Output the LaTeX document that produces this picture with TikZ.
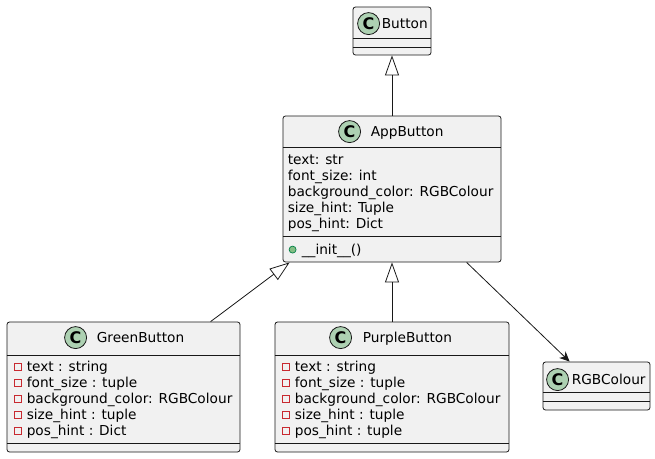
\documentclass[tikz,border=0pt]{standalone}
\usepackage{fontspec}
\setmainfont{DejaVu Sans}
\usetikzlibrary{arrows.meta,calc,positioning}
\definecolor{umlfill}{HTML}{F1F1F1}
\definecolor{umlline}{HTML}{181818}
\definecolor{spotfill}{HTML}{ADD1B2}
\definecolor{privred}{HTML}{C82930}
\definecolor{pubfill}{HTML}{84BE84}
\definecolor{publine}{HTML}{038048}
\newcommand{\umlfont}{\fontsize{13.7pt}{16pt}\selectfont}
\tikzset{
  cls/.style     = {draw=umlline, fill=umlfill, line width=0.8pt, rounded corners=2.5pt,
                    inner sep=0pt},
  sepline/.style = {draw=umlline, line width=0.8pt},
  spot/.style    = {circle, draw=umlline, fill=spotfill, line width=0.8pt, minimum size=22pt,
                    inner sep=0pt, font=\fontsize{16pt}{16pt}\selectfont\bfseries},
  cname/.style   = {anchor=base west, inner sep=0pt, font=\umlfont},
  attr/.style    = {anchor=base west, inner sep=0pt, font=\umlfont},
  priv/.style    = {draw=privred, line width=1pt},
  pub/.style     = {circle, draw=publine, fill=pubfill, line width=0.7pt, minimum size=7pt,
                    inner sep=0pt},
  inherit/.style = {draw=umlline, line width=0.8pt,
                    -{Triangle[open, length=20pt, width=14pt, line width=0.8pt]}},
  assoc/.style   = {draw=umlline, line width=0.8pt,
                    -{Stealth[length=10pt, width=9pt, inset=3pt]}},
}

\begin{document}
\begin{tikzpicture}[x=1pt,y=-1pt]
  \useasboundingbox (0,0) rectangle (655,458);

  % class boxes
  \node[cls, minimum width=78pt,  minimum height=48pt]  (button) at (392,31)    {};
  \node[cls, minimum width=218pt, minimum height=146pt] (app)    at (392,189)   {};
  \node[cls, minimum width=233pt, minimum height=130pt] (green)  at (123.5,387) {};
  \node[cls, minimum width=234pt, minimum height=130pt] (purple) at (392,387)   {};
  \node[cls, minimum width=107pt, minimum height=48pt]  (rgb)    at (596.5,386) {};

  % compartments
  \draw[sepline] ($(button.north west)+(0,32)$) -- ($(button.north east)+(0,32)$);
  \draw[sepline] ($(button.north west)+(0,41)$) -- ($(button.north east)+(0,41)$);
  \draw[sepline] ($(app.north west)+(0,32)$) -- ($(app.north east)+(0,32)$);
  \draw[sepline] ($(app.north west)+(0,121)$) -- ($(app.north east)+(0,121)$);
  \draw[sepline] ($(green.north west)+(0,34)$) -- ($(green.north east)+(0,34)$);
  \draw[sepline] ($(green.north west)+(0,122)$) -- ($(green.north east)+(0,122)$);
  \draw[sepline] ($(purple.north west)+(0,34)$) -- ($(purple.north east)+(0,34)$);
  \draw[sepline] ($(purple.north west)+(0,122)$) -- ($(purple.north east)+(0,122)$);
  \draw[sepline] ($(rgb.north west)+(0,31)$) -- ($(rgb.north east)+(0,31)$);
  \draw[sepline] ($(rgb.north west)+(0,40)$) -- ($(rgb.north east)+(0,40)$);

  % headers
  \node[spot] (buttonC) at ($(button.north west)+(16,17)$) {C};
  \node[cname] (buttonN) at ($(button.north west)+(29,22)$) {Button};
  \node[spot] (appC) at ($(app.north west)+(67,16)$) {C};
  \node[cname] (appN) at ($(app.north west)+(88,21)$) {AppButton};
  \node[spot] (greenC) at ($(green.north west)+(69,16)$) {C};
  \node[cname] (greenN) at ($(green.north west)+(90,21)$) {GreenButton};
  \node[spot] (purpleC) at ($(purple.north west)+(66,16)$) {C};
  \node[cname] (purpleN) at ($(purple.north west)+(88,21)$) {PurpleButton};
  \node[spot] (rgbC) at ($(rgb.north west)+(15,18)$) {C};
  \node[cname] (rgbN) at ($(rgb.north west)+(29,23)$) {RGBColour};

  % members
  \foreach \a [count=\i from 0] in {text: str, font\_size: int,
      background\_color: RGBColour, size\_hint: Tuple, pos\_hint: Dict}
    \node[attr] (appA\i) at ($(app.north west)+(5,49+16*\i)$) {\a};
  \node[pub] (appM) at ($(app.north west)+(10,134)$) {};
  \node[attr] (appMN) at ($(app.north west)+(19,139)$) {\_\_init\_\_()};
  \foreach \a [count=\i from 0] in {text : string, font\_size : tuple,
      background\_color: RGBColour, size\_hint : tuple, pos\_hint : Dict}{
    \draw[priv] ($(green.north west)+(7.5,42+16*\i)$) rectangle +(7,7);
    \node[attr] (greenA\i) at ($(green.north west)+(20,50+16*\i)$) {\a};
  }
  \foreach \a [count=\i from 0] in {text : string, font\_size : tuple,
      background\_color: RGBColour, size\_hint : tuple, pos\_hint : tuple}{
    \draw[priv] ($(purple.north west)+(7.5,42+16*\i)$) rectangle +(7,7);
    \node[attr] (purpleA\i) at ($(purple.north west)+(20,50+16*\i)$) {\a};
  }

  % relations
  \draw[inherit] (app) -- (button);
  \draw[inherit] (purple) -- (app);
  \draw[inherit] ($(green.north west)+(204,0)$) -- ($(app.south west)+(7,0)$);
  \draw[assoc] ($(app.south west)+(184,0)$) -- ($(rgb.north west)+(27,0)$);
\end{tikzpicture}
\end{document}
